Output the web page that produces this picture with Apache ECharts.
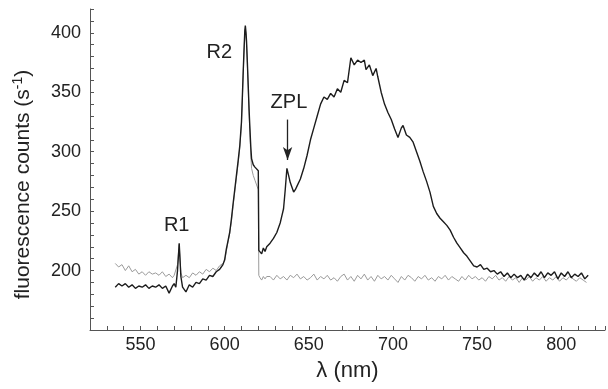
<!DOCTYPE html>
<html><head><meta charset="utf-8">
<script src="https://cdn.jsdelivr.net/npm/echarts@6/dist/echarts.min.js"></script>
<style>html,body{margin:0;padding:0;background:#fff}#c{width:608px;height:389px}</style>
</head><body><div id="c"></div>
<script>
// [wavelength (nm), counts (s^-1)]
const sampleSpectrum = [
[535,186],[537,189],[539,187],[541,189],[543,186],[545,188],[547,185],[549,187],[551,186],[553,188],[555,185],[557,187],[559,186],[561,188],[563,185],[565,187],[567,181],[569,187],[570,189],[571,186],[572,200],[573,223],[574,195],[575,186],[577,182],[579,188],[581,186],[583,190],[585,189],[587,193],[589,192],[591,196],[593,195],[595,199],[597,201],[598,203],[599,205],[600,209],[601,218],[602,225],[603,232],[604,243],[605,256],[606,268],[607,280],[608,292],[609,305],[610,325],[610.5,345],[611,366],[611.5,385],[612,402],[612.3,406],[612.7,400],[613,393],[613.5,375],[614,356],[614.5,336],[615,320],[615.5,305],[616,294],[617,289],[618,287],[619,286],[620,284],[620.3,217],[621,216],[622,214],[623,219],[624,216],[625,220],[627,223],[629,227],[631,232],[633,240],[634,246],[635,252],[636,268],[637,286],[638,280],[639,274],[640,270],[641,266],[642,268],[643,271],[645,277],[647,286],[649,297],[651,310],[653,320],[655,330],[657,340],[659,346],[661,344],[663,349],[665,346],[667,353],[669,350],[671,360],[673,358],[675,379],[677,373],[679,377],[681,375],[683,377],[684,369],[686,373],[688,364],[690,370],[691,363],[693,350],[695,340],[697,333],[699,327],[701,319],[703,312],[705,320],[706,322],[708,314],[710,312],[712,308],[714,300],[716,292],[718,283],[720,275],[722,266],[724,254],[726,248],[728,244],[730,241],[732,238],[734,234],[736,228],[738,223],[740,219],[742,215],[744,212],[746,208],[748,204],[750,203],[752,205],[754,201],[756,202],[758,199],[760,200],[762,197],[764,199],[766,195],[768,198],[770,194],[772,197],[774,194],[776,196],[778,192],[780,197],[782,194],[784,198],[786,195],[788,199],[790,194],[792,198],[794,196],[796,199],[798,193],[800,198],[802,195],[804,199],[806,194],[808,197],[810,195],[812,198],[814,193],[816,196]
];
const backgroundSpectrum = [
[535,206],[537,203],[539,205],[541,200],[543,204],[545,199],[547,201],[549,197],[551,199],[553,196],[555,199],[557,197],[559,198],[561,196],[563,199],[565,195],[567,197],[569,194],[570,196],[571,195],[572,205],[573,222],[574,198],[575,194],[577,196],[579,194],[581,198],[583,196],[585,199],[587,197],[589,201],[591,199],[593,202],[595,200],[597,204],[598,203],[599,206],[600,208],[601,216],[602,224],[603,231],[604,241],[605,254],[606,266],[607,278],[608,290],[609,303],[610,323],[610.5,343],[611,364],[611.5,383],[612,400],[612.3,403],[612.7,398],[613,391],[613.5,373],[614,354],[614.5,334],[615,316],[615.5,298],[616,286],[617,280],[618,276],[619,272],[620,268],[620.3,196],[621,194],[622,192],[623,195],[624,193],[625,195],
[627,195],[629,192],[631,196],[633,193],[635,195],[637,192],[639,196],[641,194],[643,197],[645,193],[647,195],[649,192],[651,194],[653,197],[655,192],[657,195],[659,193],[661,196],[663,192],[665,194],[667,191],[669,195],[671,197],[673,192],[675,195],[677,191],[679,196],[681,193],[683,197],[685,192],[687,195],[689,191],[691,196],[693,193],[695,195],[697,192],[699,196],[701,193],[703,190],[705,195],[707,192],[709,196],[711,194],[713,191],[715,195],[717,193],[719,196],[721,192],[723,194],[725,191],[727,195],[729,193],[731,196],[733,192],[735,195],[737,193],[739,191],[741,195],[743,192],[745,196],[747,193],[749,195],[751,192],[753,194],[755,191],[757,195],[759,193],[761,196],[763,192],[765,194],[767,191],[769,195],[771,192],[773,194],[775,190],[777,194],[779,192],[781,195],[783,191],[785,194],[787,192],[789,195],[791,191],[793,194],[795,192],[797,195],[799,191],[801,194],[803,192],[805,195],[807,193],[809,191],[811,194],[813,192],[815,190]
];
const xTickLabels = [550, 600, 650, 700, 750, 800];
const yTickLabels = [200, 250, 300, 350, 400];
const peakNames = ['R1', 'R2', 'ZPL'];
const peakLabelAt = [[571.5, 237.5], [596.8, 383.2], [638.2, 341.3]];
const zplArrow = [[637.4, 327], [637.4, 293]];

const chart = echarts.init(document.getElementById('c'), null, {renderer: 'canvas'});
const font = '"Liberation Sans", Arial, Helvetica, sans-serif';
const txt = '#222';
const axisCol = '#555';
chart.setOption({
  animation: false,
  grid: {left: 90, right: 1, top: 9, bottom: 59},
  xAxis: {
    type: 'value', min: 520, max: 826, interval: 10,
    axisLine: {onZero: false, lineStyle: {color: axisCol, width: 1}},
    axisTick: {inside: true, length: 4, lineStyle: {color: axisCol, width: 1}},
    splitLine: {show: false},
    axisLabel: {margin: 6, fontSize: 18, color: txt, fontFamily: font,
      formatter: v => xTickLabels.includes(v) ? String(v) : ''},
    name: 'λ (nm)', nameLocation: 'middle', nameGap: 30,
    nameTextStyle: {fontSize: 22, color: txt, fontFamily: font}
  },
  yAxis: {
    type: 'value', min: 150, max: 420, interval: 10,
    axisLine: {show: true, lineStyle: {color: axisCol, width: 1}},
    axisTick: {show: true, inside: true, length: 4, lineStyle: {color: axisCol, width: 1}},
    splitLine: {show: false},
    axisLabel: {margin: 9, fontSize: 18, color: txt, fontFamily: font,
      formatter: v => yTickLabels.includes(v) ? String(v) : ''},
    name: '{a|fluorescence counts (s}{s|-1}{a|)}', nameLocation: 'middle', nameRotate: 90, nameGap: 55,
    nameTextStyle: {color: txt, fontFamily: font, padding: [0, 30, 0, 0],
      rich: {
        a: {fontSize: 21, color: txt, fontFamily: font, lineHeight: 24},
        s: {fontSize: 14, color: txt, fontFamily: font, verticalAlign: 'top', lineHeight: 24}
      }}
  },
  series: [
    {
      type: 'line', data: backgroundSpectrum, showSymbol: false, symbol: 'none',
      lineStyle: {color: '#9a9a9a', width: 1}, silent: true, z: 2,
      markLine: {
        silent: true, symbol: ['none', 'arrow'], symbolSize: [7, 13],
        lineStyle: {type: 'solid', color: '#222', width: 1.3}, label: {show: false},
        data: [[{coord: zplArrow[0]}, {coord: zplArrow[1]}]]
      }
    },
    {
      type: 'line', data: sampleSpectrum, showSymbol: false, symbol: 'none',
      lineStyle: {color: '#1c1c1c', width: 1.4}, silent: true, z: 3,
      markPoint: {
        silent: true, symbol: 'circle', symbolSize: 1, itemStyle: {color: 'rgba(0,0,0,0)'},
        label: {show: true, position: 'inside', formatter: '{b}', fontSize: 20, color: txt, fontFamily: font},
        data: peakNames.map((n, i) => ({name: n, coord: peakLabelAt[i]}))
      }
    }
  ]
});
</script></body></html>
